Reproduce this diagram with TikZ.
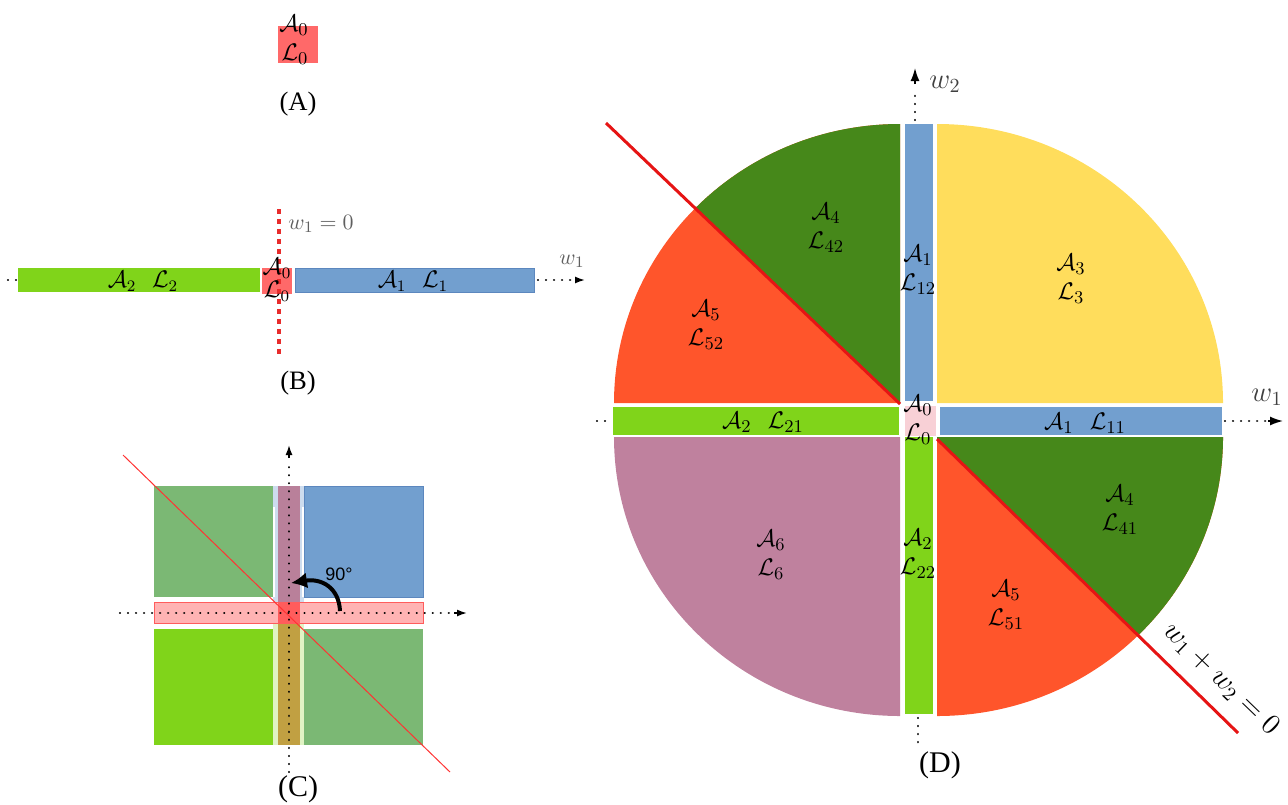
\documentclass[tikz,border=0pt]{standalone}
\usepackage{fontspec}
\newfontfamily\timesf{Liberation Serif}
\newfontfamily\arialf{Liberation Sans}
\usetikzlibrary{arrows.meta}
\definecolor{pinkA}{RGB}{255,105,105}
\definecolor{limeG}{RGB}{128,212,26}
\definecolor{blueL}{RGB}{114,159,207}
\definecolor{blueBd}{RGB}{92,135,190}
\definecolor{yellowQ}{RGB}{255,221,92}
\definecolor{darkG}{RGB}{70,136,26}
\definecolor{orangeQ}{RGB}{255,85,43}
\definecolor{mauveQ}{RGB}{191,129,158}
\definecolor{pinkC}{RGB}{248,208,214}
\definecolor{redL}{RGB}{230,20,20}
\definecolor{greenC}{RGB}{123,184,116}
\definecolor{stripPink}{RGB}{255,179,179}
\definecolor{stripRed}{RGB}{255,92,92}
\definecolor{mauveC}{RGB}{185,128,154}
\definecolor{ochreC}{RGB}{193,160,66}
\definecolor{paleB}{RGB}{205,220,238}
\definecolor{paleG}{RGB}{225,243,196}
\definecolor{grayT}{RGB}{95,95,95}
\begin{document}
\begin{tikzpicture}[x=0.5pt,y=-0.5pt,
  mlab/.style={inner sep=0pt, font=\fontsize{13}{15}\selectfont},
  dlab/.style={inner sep=0pt, align=center, font=\fontsize{12.5}{14.5}\selectfont},
  blab/.style={inner sep=0pt, font=\fontsize{12}{14}\selectfont},
  caplab/.style={inner sep=0pt, font=\timesf\fontsize{13.3}{15}\selectfont},
  capbig/.style={inner sep=0pt, font=\timesf\fontsize{15}{17}\selectfont},
  axis/.style={line width=1.2pt, dash pattern=on 0.01pt off 4pt, line cap=round},
  axtip/.style={-{Latex[length=6.5pt,width=4.5pt]}},
  axtipS/.style={-{Latex[length=5pt,width=3.5pt]}},
  redline/.style={draw=redL, line width=1.5pt},
  wlab/.style={inner sep=0pt, text=grayT, font=\fontsize{11}{13}\selectfont},
  wlabD/.style={inner sep=0pt, text=black!75, font=\fontsize{14}{16}\selectfont},
  quad/.style={x radius=286, y radius=279}
]
\useasboundingbox (0,0) rectangle (1288,804);

% ---------------- Panel A ----------------
\fill[pinkA] (278,26) rectangle (318,63);
\node[mlab] (A0a) at (294,25) {$\mathcal{A}_0$};
\node[mlab] (L0a) at (295,54) {$\mathcal{L}_0$};
\node[caplab] (capA) at (298,104) {(A)};

% ---------------- Panel B ----------------
\coordinate (bLs) at (8,280);
\coordinate (bLe) at (17,280);
\coordinate (bRs) at (538,280);
\coordinate (bRe) at (585,280);
\draw[axis] (bLs) -- (bLe);
\draw[axis] (bRs) -- (575,280);
\draw[axtipS, line width=0.8pt] (576,280) -- (bRe);
\fill[limeG] (18,268) rectangle (260,292);
\fill[pinkA] (262,268) rectangle (292,294);
\filldraw[fill=blueL, draw=blueBd, line width=0.4pt] (295,268) rectangle (534,292);
\coordinate (rdt) at (279,209);
\coordinate (rdb) at (279,356);
\draw[draw=redL!90!white, line width=2.4pt, dash pattern=on 2.4pt off 2.6pt] (rdt) -- (rdb);
\node[blab] (A0b) at (277,268) {$\mathcal{A}_0$};
\node[blab] (L0b) at (277,291) {$\mathcal{L}_0$};
\node[blab] (A2b) at (143,281) {$\mathcal{A}_2\ \ \mathcal{L}_2$};
\node[blab] (A1b) at (413,281) {$\mathcal{A}_1\ \ \mathcal{L}_1$};
\node[wlab] (w10) at (321,224) {$w_1=0$};
\node[wlab] (w1b) at (572,261) {$w_1$};
\node[caplab] (capB) at (298,383) {(B)};

% ---------------- Panel C ----------------
\fill[greenC] (154,486) rectangle (273,597);
\filldraw[fill=blueL, draw=blueBd, line width=0.4pt] (304,486) rectangle (423,597);
\fill[paleB] (273,486) rectangle (304,602);
\fill[white] (273,507) rectangle (275,597);
\fill[white] (302,507) rectangle (304,597);
\fill[mauveC] (278,486) rectangle (300,602);
\fill[limeG] (154,629) rectangle (273,745);
\fill[greenC] (304,629) rectangle (423,745);
\fill[paleG] (273,623) rectangle (304,745);
\fill[ochreC] (278,623) rectangle (300,745);
\filldraw[fill=stripPink, draw=stripRed, line width=0.4pt] (154,602) rectangle (423,623);
\fill[stripRed] (278,602) rectangle (300,623);
\coordinate (cd1) at (123,455);
\coordinate (cd2) at (450,772);
\draw[draw=red!80!white, line width=0.5pt] (cd1) -- (cd2);
\coordinate (cvb) at (289,772);
\coordinate (cvt) at (289,445);
\draw[axis] (cvb) -- (289,460);
\draw[axtipS, line width=0.8pt] (289,458) -- (cvt);
\coordinate (chl) at (120,613);
\coordinate (chr) at (467,613);
\draw[axis] (chl) -- (452,613);
\draw[axtipS, line width=0.8pt] (454,613) -- (chr);
\coordinate (rotS) at (340,611);
\coordinate (rotE) at (291,583);
\draw[line width=2pt, -{Latex[length=8pt,width=8pt]}] (rotS) .. controls (339,588) and (322,578) .. (rotE);
\node[inner sep=0pt, font=\arialf\fontsize{9}{11}\selectfont] (deg) at (339,574) {90°};
\node[capbig] (capC) at (298,789) {(C)};

% ---------------- Panel D ----------------
\coordinate (dLs) at (597,421);
\coordinate (dLe) at (612,421);
\coordinate (dRs) at (1225,421);
\coordinate (dRe) at (1283,421);
\coordinate (dTs) at (915,120);
\coordinate (dTe) at (915,68);
\coordinate (dBs) at (918,718);
\coordinate (dBe) at (918,745);
\draw[axis] (dLs) -- (dLe);
\draw[axis] (dRs) -- (1266,421);
\draw[axtip, line width=0.8pt] (1268,421) -- (dRe);
\draw[axis] (dTs) -- (915,90);
\draw[axtip, line width=0.8pt] (915,84) -- (dTe);
\draw[axis] (dBs) -- (dBe);

\fill[yellowQ] (937,403) -- (937,124) arc[start angle=270, end angle=360, quad] -- cycle;
\fill[mauveQ] (900,437) -- (614,437) arc[start angle=180, end angle=90, quad] -- cycle;
\fill[orangeQ] (900,403) -- (614,403) arc[start angle=180, end angle=270, quad] -- cycle;
\fill[orangeQ] (937,437) -- (1223,437) arc[start angle=0, end angle=90, quad] -- cycle;
\begin{scope}
  \clip (477,0) -- (900,404) -- (1000,404) -- (1000,0) -- cycle;
  \fill[darkG] (900,403) -- (614,403) arc[start angle=180, end angle=270, quad] -- cycle;
\end{scope}
\begin{scope}
  \clip (907,410) -- (1300,793) -- (1300,400) -- (907,400) -- cycle;
  \fill[darkG] (937,437) -- (1223,437) arc[start angle=0, end angle=90, quad] -- cycle;
\end{scope}
\coordinate (rl1) at (606,123);
\coordinate (rl2) at (900,404);
\coordinate (rl3) at (937,439);
\coordinate (rl4) at (1238,733);
\draw[redline] (rl1) -- (rl2);
\draw[redline] (rl3) -- (rl4);

\fill[blueL] (905,124) rectangle (933,401);
\fill[limeG] (613,407) rectangle (899,435);
\fill[blueL] (940,407) rectangle (1222,435);
\fill[limeG] (905,437) rectangle (933,714);
\fill[pinkC] (905,406) rectangle (936,436);

\node[dlab] (A4a) at (826,228) {$\mathcal{A}_4$\\$\mathcal{L}_{42}$};
\node[dlab] (A1a) at (918,270) {$\mathcal{A}_1$\\$\mathcal{L}_{12}$};
\node[dlab] (A3) at (1071,279) {$\mathcal{A}_3$\\$\mathcal{L}_3$};
\node[dlab] (A5a) at (706,325) {$\mathcal{A}_5$\\$\mathcal{L}_{52}$};
\node[dlab] (A2a) at (763,422) {$\mathcal{A}_2\ \ \mathcal{L}_{21}$};
\node[dlab] (A1c) at (1085,423) {$\mathcal{A}_1\ \ \mathcal{L}_{11}$};
\node[dlab] (A0d) at (918,420) {$\mathcal{A}_0$\\$\mathcal{L}_0$};
\node[dlab] (A4b) at (1120,510) {$\mathcal{A}_4$\\$\mathcal{L}_{41}$};
\node[dlab] (A6) at (771,555) {$\mathcal{A}_6$\\$\mathcal{L}_6$};
\node[dlab] (A2c) at (918,554) {$\mathcal{A}_2$\\$\mathcal{L}_{22}$};
\node[dlab] (A5b) at (1006,605) {$\mathcal{A}_5$\\$\mathcal{L}_{51}$};
\node[wlabD] (w1d) at (1267,397) {$w_1$};
\node[wlabD] (w2d) at (945,84) {$w_2$};
\node[inner sep=0pt, rotate=-44, font=\fontsize{14.5}{16}\selectfont] (eq) at (1221,679) {$w_1+w_2=0$};
\node[capbig] (capD) at (940,765) {(D)};
\end{tikzpicture}
\end{document}
